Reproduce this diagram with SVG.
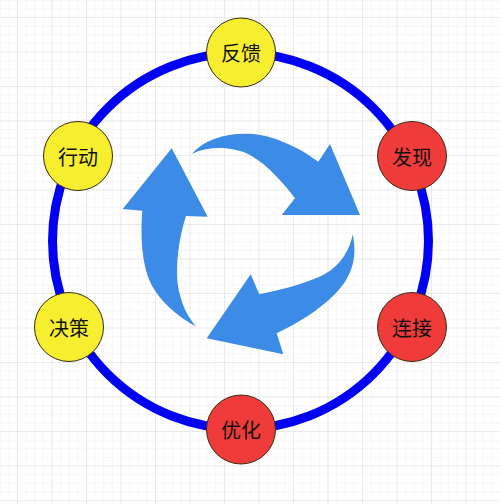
<svg xmlns="http://www.w3.org/2000/svg" width="500" height="504" viewBox="0 0 500 504">
<defs>
<pattern id="minor" x="17" y="17" width="8.625" height="8.625" patternUnits="userSpaceOnUse">
<path d="M0,0 H8.625 M0,0 V8.625" stroke="#eeeeee" stroke-width="1" fill="none"/>
</pattern>
<pattern id="major" x="17" y="17" width="34.5" height="34.5" patternUnits="userSpaceOnUse">
<path d="M0,0 H34.5 M0,0 V34.5" stroke="#dedede" stroke-width="1" fill="none"/>
</pattern>
</defs>
<style>
.node circle{stroke:#3a2a10;stroke-width:1}
.y{fill:#f7ee2f}
.r{fill:#ef3b39}
.node text{font-family:"Noto Sans CJK SC","Noto Sans CJK JP",sans-serif;font-size:20px;fill:#111;text-anchor:middle;dominant-baseline:central}
.arrow{fill:#3c8ce7}
</style>
<rect width="500" height="504" fill="#ffffff"/>
<rect width="500" height="504" fill="url(#minor)"/>
<rect width="500" height="504" fill="url(#major)"/>
<g id="connectors">
<circle cx="240.5" cy="241" r="188" fill="none" stroke="#0000f5" stroke-width="9"/>
</g>
<g id="arrows">
<path class="arrow" d="M171.7,148.3 L207.7,216.7 L186,216 C178,240 174,275 180,295 C183,308 189,318 196,326.5 C170,312 150,292 145,266 C141,248 141,228 142.3,210.7 L122.7,209 Z"/>
<path class="arrow" d="M191.7,154 C205,138 230,132 253,134 C275,136 300,148 318.3,161.7 L330,144 L360,215 L281.7,215 L295,198.3 C285,185 268,165 250,155 C232,146 208,146 191.7,154 Z"/>
<path class="arrow" d="M352.7,234.3 C357,255 354,275 335,294 C318,311 298,323 276.7,333.3 L283.3,354.3 L206.7,338.3 L250.7,274.3 L259.3,294.3 C285,289 310,282 325,274 C340,266 350,250 352.7,234.3 Z"/>
</g>
<g id="node-fankui" class="node"><circle class="y" cx="241" cy="52.5" r="34.5"/><text x="241" y="52.5">反馈</text></g>
<g id="node-faxian" class="node"><circle class="r" cx="412" cy="156" r="34.5"/><text x="412" y="156">发现</text></g>
<g id="node-lianjie" class="node"><circle class="r" cx="412" cy="327" r="34.5"/><text x="412" y="327">连接</text></g>
<g id="node-youhua" class="node"><circle class="r" cx="241" cy="429.5" r="34.5"/><text x="241" y="429.5">优化</text></g>
<g id="node-juece" class="node"><circle class="y" cx="69" cy="327" r="34.5"/><text x="69" y="327">决策</text></g>
<g id="node-xingdong" class="node"><circle class="y" cx="78" cy="156" r="34.5"/><text x="78" y="156">行动</text></g>
</svg>
